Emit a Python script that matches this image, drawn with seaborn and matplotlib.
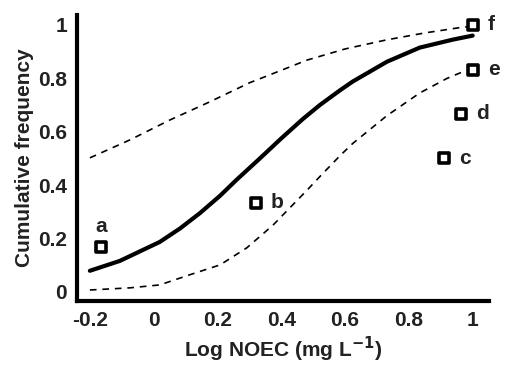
import numpy as np
import pandas as pd
import matplotlib
matplotlib.use('Agg')
import matplotlib.pyplot as plt
import seaborn as sns

# точки данных (log NOEC, кумулятивная частота)
point_labels = ['a', 'b', 'c', 'd', 'e', 'f']
point_x = [-0.165, 0.32, 0.91, 0.963, 1.0, 1.0]
point_y = [0.167, 0.333, 0.50, 0.667, 0.833, 1.0]

# подогнанная кривая
fit_x = [-0.2, -0.106, 0.019, 0.082, 0.145, 0.208, 0.26, 0.333, 0.40, 0.468,
         0.521, 0.584, 0.624, 0.731, 0.834, 0.938, 1.0]
fit_y = [0.079, 0.116, 0.187, 0.237, 0.295, 0.36, 0.42, 0.50, 0.575, 0.648,
         0.70, 0.755, 0.788, 0.862, 0.915, 0.945, 0.96]

# верхняя граница доверительного интервала
upper_x = [-0.2, -0.075, 0.051, 0.176, 0.30, 0.40, 0.48, 0.60, 0.73, 0.85, 0.96, 1.0]
upper_y = [0.502, 0.569, 0.644, 0.712, 0.783, 0.83, 0.868, 0.91, 0.944, 0.97, 0.99, 0.995]

# нижняя граница
lower_x = [-0.2, -0.075, 0.019, 0.113, 0.208, 0.292, 0.374, 0.48, 0.521, 0.584,
           0.624, 0.731, 0.834, 0.92, 0.98]
lower_y = [0.007, 0.015, 0.026, 0.064, 0.101, 0.165, 0.25, 0.38, 0.432, 0.51,
           0.556, 0.66, 0.745, 0.80, 0.83]

xticks = [-0.2, 0, 0.2, 0.4, 0.6, 0.8, 1]
xtick_labels = ['-0.2', '0', '0.2', '0.4', '0.6', '0.8', '1']
yticks = [0, 0.2, 0.4, 0.6, 0.8, 1]
ytick_labels = ['0', '0.2', '0.4', '0.6', '0.8', '1']

sns.set_style('white')
plt.rcParams['font.family'] = ['Liberation Sans', 'DejaVu Sans']

fig = plt.figure(figsize=(5.12, 3.67), dpi=100)
ax = fig.add_axes([0.150, 0.180, 0.805, 0.779])

pts = pd.DataFrame({'x': point_x, 'y': point_y, 'label': point_labels})

sns.lineplot(x=upper_x, y=upper_y, ax=ax, color='black', linewidth=1.2,
             linestyle=(0, (4, 3.5)), sort=False)
sns.lineplot(x=lower_x, y=lower_y, ax=ax, color='black', linewidth=1.2,
             linestyle=(0, (4, 3.5)), sort=False)
sns.lineplot(x=fit_x, y=fit_y, ax=ax, color='black', linewidth=3.0, sort=False)
sns.scatterplot(data=pts, x='x', y='y', ax=ax, marker='s', s=42,
                facecolor='white', edgecolor='black', linewidth=2.6, zorder=5)

for lab, x, y in zip(point_labels, point_x, point_y):
    if lab == 'a':
        ax.annotate(lab, (x, y), xytext=(0, 8), textcoords='offset points',
                    ha='center', va='bottom', fontsize=15, fontweight='bold', color='#222222')
    else:
        ax.annotate(lab, (x, y), xytext=(11, 0), textcoords='offset points',
                    ha='left', va='center', fontsize=15, fontweight='bold', color='#222222')

ax.set_xlim(-0.241, 1.051)
ax.set_ylim(-0.034, 1.037)
ax.set_xticks(xticks)
ax.set_xticklabels(xtick_labels)
ax.set_yticks(yticks)
ax.set_yticklabels(ytick_labels)
ax.tick_params(length=0, labelsize=15, colors='#222222', pad=7)
for t in ax.get_xticklabels() + ax.get_yticklabels():
    t.set_fontweight('bold')

ax.set_xlabel('Log NOEC (mg L$^{\\mathbf{-1}}$)', fontsize=15, fontweight='bold', color='#222222', labelpad=4)
ax.set_ylabel('Cumulative frequency', fontsize=15, fontweight='bold', color='#222222', labelpad=3)

sns.despine(ax=ax)
for side in ['left', 'bottom']:
    ax.spines[side].set_linewidth(3)
    ax.spines[side].set_color('black')

fig.savefig('out.png', dpi=100)
